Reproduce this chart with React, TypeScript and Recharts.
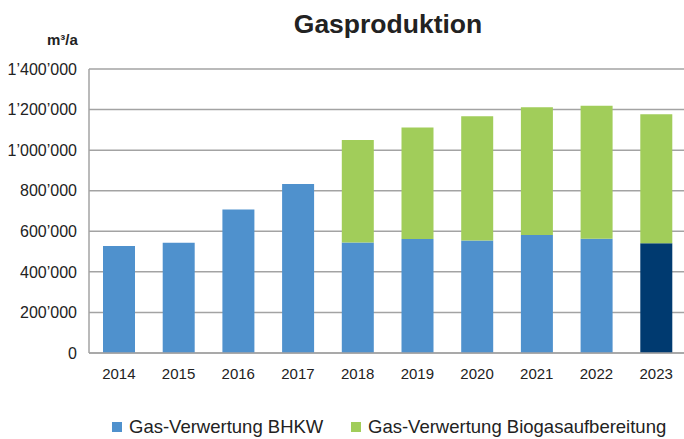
import { BarChart, Bar, XAxis, YAxis, CartesianGrid, Cell } from 'recharts'

// Jahre
const years = ['2014', '2015', '2016', '2017', '2018', '2019', '2020', '2021', '2022', '2023']
// Gas-Verwertung BHKW (m³/a)
const bhkw = [528000, 543000, 708000, 833000, 545000, 562000, 555000, 582000, 563000, 541000]
// Gas-Verwertung Biogasaufbereitung (m³/a)
const aufbereitung = [0, 0, 0, 0, 505000, 550000, 612000, 630000, 656000, 636000]
const yTicks = [0, 200000, 400000, 600000, 800000, 1000000, 1200000, 1400000]

const BLUE = '#4f91cd'
const DARK_BLUE = '#003a70'
const GREEN = '#a1cd5a'
const GRID = '#a3a3a3'
const FONT = '"Liberation Sans", Arial, Helvetica, sans-serif'

const data = years.map((year, i) => ({
  year,
  bhkw: bhkw[i],
  aufbereitung: aufbereitung[i] || null,
}))

// 1’400’000 format
function formatTick(value: number): string {
  return String(value).replace(/\B(?=(\d{3})+(?!\d))/g, '’')
}

const legendItems = [
  { name: 'Gas-Verwertung BHKW', color: BLUE, left: 112 },
  { name: 'Gas-Verwertung Biogasaufbereitung', color: GREEN, left: 351 },
]

export default function App() {
  return (
    <div
      style={{
        position: 'absolute',
        left: 0,
        top: 0,
        width: 684,
        height: 439,
        overflow: 'hidden',
        background: '#fff',
        fontFamily: FONT,
        color: '#222',
      }}
    >
      <div
        style={{
          position: 'absolute',
          left: 0,
          width: 776,
          top: 9,
          textAlign: 'center',
          fontSize: 26.5,
          fontWeight: 'bold',
        }}
      >
        Gasproduktion
      </div>
      <div style={{ position: 'absolute', left: 47, top: 31, fontSize: 15, fontWeight: 'bold' }}>
        m³/a
      </div>
      <BarChart
        width={686}
        height={439}
        data={data}
        margin={{ top: 69, right: 0, left: 0, bottom: 56 }}
        barSize={32}
      >
        <CartesianGrid vertical={false} stroke={GRID} strokeWidth={1.5} />
        <XAxis
          dataKey="year"
          height={30}
          axisLine={{ stroke: GRID, strokeWidth: 1.5 }}
          tickLine={false}
          tickSize={0}
          tickMargin={15}
          tick={{ fill: '#222', fontSize: 15, fontFamily: FONT }}
        />
        <YAxis
          width={89}
          domain={[0, 1400000]}
          ticks={yTicks}
          interval={0}
          axisLine={{ stroke: GRID, strokeWidth: 1.5 }}
          tickLine={false}
          tickSize={0}
          tickMargin={12}
          tickFormatter={formatTick}
          tick={{ fill: '#222', fontSize: 16, fontFamily: FONT }}
        />
        <Bar dataKey="bhkw" stackId="a" fill={BLUE} isAnimationActive={false}>
          {data.map((d) => (
            <Cell key={d.year} fill={d.year === '2023' ? DARK_BLUE : BLUE} />
          ))}
        </Bar>
        <Bar dataKey="aufbereitung" stackId="a" fill={GREEN} isAnimationActive={false} />
      </BarChart>
      {legendItems.map((item) => (
        <div
          key={item.name}
          style={{
            position: 'absolute',
            left: item.left,
            top: 416,
            display: 'flex',
            alignItems: 'center',
            fontSize: 18.5,
            lineHeight: '22px',
          }}
        >
          <span
            style={{ width: 10, height: 10, background: item.color, display: 'inline-block', marginRight: 7 }}
          />
          <span>{item.name}</span>
        </div>
      ))}
    </div>
  )
}
